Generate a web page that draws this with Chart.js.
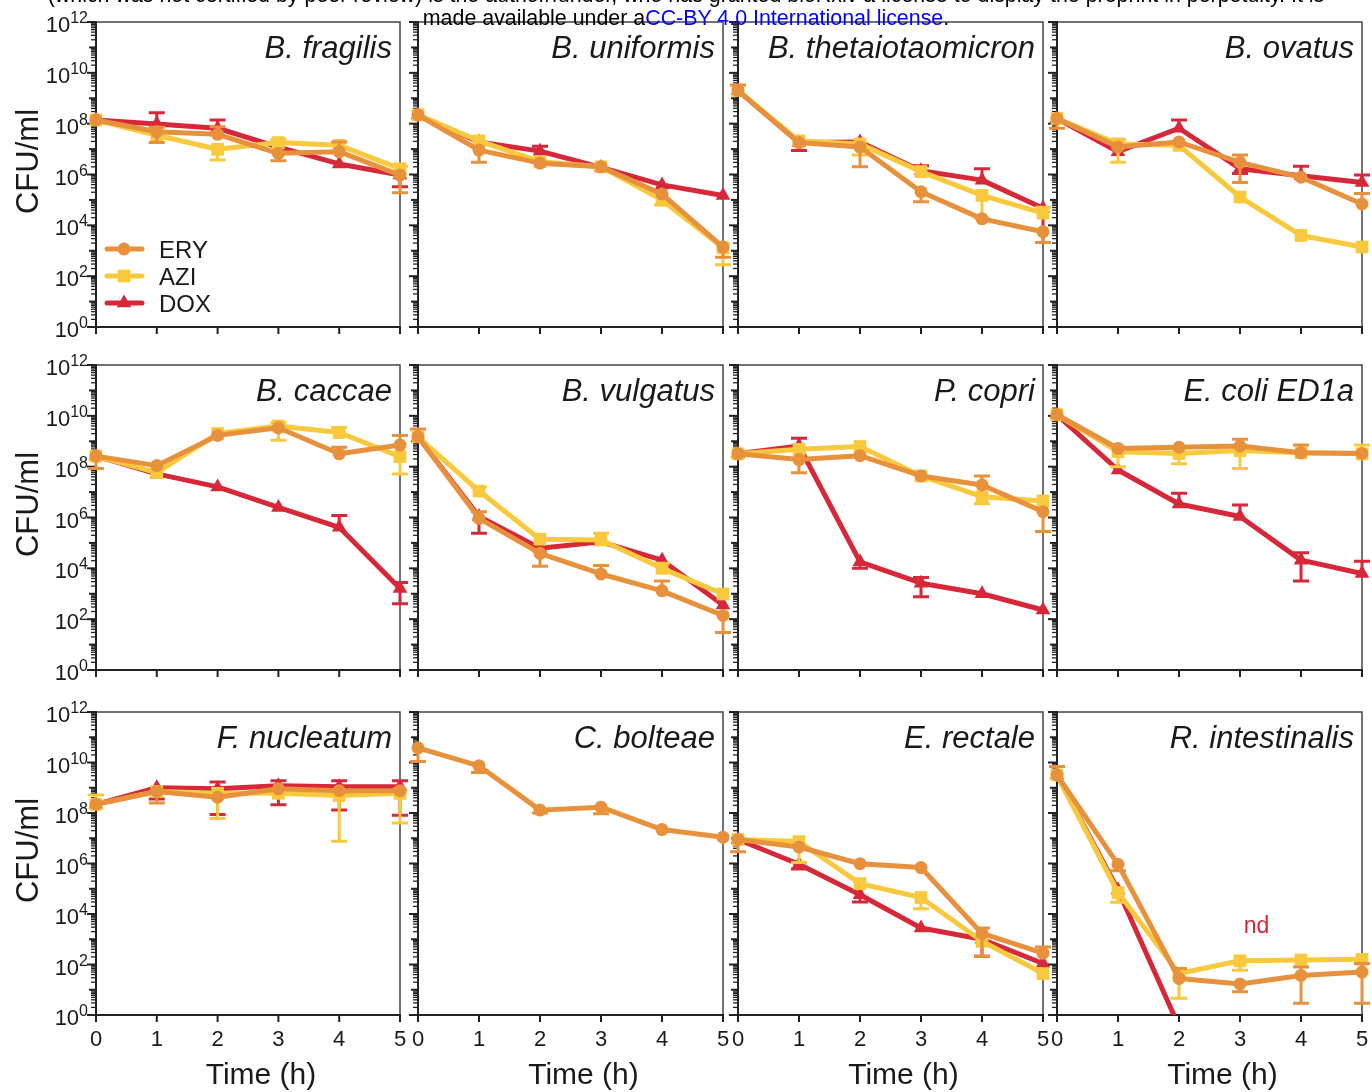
<!DOCTYPE html>
<html>
<head>
<meta charset="utf-8">
<script src="https://cdn.jsdelivr.net/npm/chart.js@4.4.1/dist/chart.umd.min.js"></script>
<style>
  body { margin: 0; background: #fff; width: 1372px; height: 1092px; overflow: hidden; position: relative;
         font-family: "Liberation Sans", Arial, Helvetica, sans-serif; }
  canvas { position: absolute; }
  .hdr { position: absolute; left: 0; width: 1372px; text-align: center; font-size: 21.4px; line-height: 21px;
         color: #000; white-space: nowrap; z-index: 5; }
  .hdr a { color: #0000ff; text-decoration: none; }
</style>
</head>
<body>
<div class="hdr" style="top:-15px">(which was not certified by peer review) is the author/funder, who has granted bioRxiv a license to display the preprint in perpetuity. It is</div>
<div class="hdr" style="top:8px">made available under a<a>CC-BY 4.0 International license</a>.</div>
<script>
const _ = null;
const times = [0, 1, 2, 3, 4, 5];
const species = ['B. fragilis', 'B. uniformis', 'B. thetaiotaomicron', 'B. ovatus',
                 'B. caccae', 'B. vulgatus', 'P. copri', 'E. coli ED1a',
                 'F. nucleatum', 'C. bolteae', 'E. rectale', 'R. intestinalis'];
const drugs = ['ERY', 'AZI', 'DOX'];
const drugColors = ['#E8913C', '#F8C93C', '#D7283A'];
const drugMarkers = ['circle', 'rect', 'triangle'];
const markerRadius = [6.5, 9, 8.5];
const yExponents = [0, 1, 2, 3, 4, 5, 6, 7, 8, 9, 10, 11, 12];
const yLabelExponents = [0, 2, 4, 6, 8, 10, 12];
const minorSteps = [2, 3, 4, 5, 6, 7, 8, 9];

// CFU/ml, one row per species, columns = times
const eryMean = [
  [1.4e8, 4.8e7, 3.8e7, 6.8e6, 7.9e6, 9.5e5],
  [2.2e8, 9.1e6, 2.8e6, 2.0e6, 1.7e5, 1.4e3],
  [2.0e9, 1.8e7, 1.2e7, 2.1e5, 1.8e4, 5.6e3],
  [1.6e8, 1.2e7, 1.9e7, 3.0e6, 7.8e5, 6.9e4],
  [2.6e8, 1.1e8, 1.7e9, 3.4e9, 3.2e8, 7.1e8],
  [1.5e9, 9.3e5, 3.9e4, 6.0e3, 1.3e3, 1.4e2],
  [3.2e8, 1.9e8, 2.7e8, 4.3e7, 1.9e7, 1.7e6],
  [1.1e10, 5.2e8, 5.8e8, 6.5e8, 3.5e8, 3.3e8],
  [2.2e8, 7.1e8, 4.2e8, 9.1e8, 7.6e8, 7.6e8],
  [3.8e10, 7.4e9, 1.3e8, 1.7e8, 2.2e7, 1.1e7],
  [8.9e6, 4.5e6, 9.8e5, 6.9e5, 1.7e3, 2.8e2],
  [3.2e9, 9.3e5, 28, 17, 37, 50]
];
const eryLo = [
  [_, 1.8e7, _, 3.5e6, _, 1.9e5],
  [_, 3.0e6, _, _, _, 5.5e2],
  [_, _, 2.0e6, 8.5e4, _, 2.1e3],
  [6.6e7, _, _, 4.8e5, _, _],
  [8.5e7, _, _, _, _, _],
  [_, _, 1.2e4, _, _, 30],
  [_, 5.8e7, _, _, _, 2.8e5],
  [_, _, _, _, _, _],
  [_, 2.5e8, _, _, _, _],
  [1.1e10, 4.0e9, 1.0e8, 9.3e7, _, _],
  [2.9e6, _, _, _, 2.1e2, _],
  [_, 5.2e5, _, 8.3, 2.9, 2.9]
];
const eryHi = [
  [_, 7.2e7, 7.6e7, _, 1.9e7, _],
  [_, _, _, _, _, _],
  [3.3e9, _, _, _, _, _],
  [_, _, _, 5.9e6, _, 1.8e5],
  [_, _, _, _, 5.8e8, 1.7e9],
  [3.0e9, 1.7e6, _, 1.3e4, 3.2e3, _],
  [_, _, _, _, 4.3e7, _],
  [_, _, _, 1.2e9, 7.1e8, _],
  [_, _, _, _, _, _],
  [_, _, _, _, _, _],
  [_, _, _, _, 2.8e3, 4.9e2],
  [6.9e9, _, 69, _, 79, 110]
];

const aziMean = [
  [1.4e8, 3.5e7, 9.8e6, 1.8e7, 1.4e7, 1.7e6],
  [2.2e8, 2.1e7, 3.2e6, 2.0e6, 1.0e5, 1.3e3],
  [2.0e9, 2.1e7, 1.6e7, 1.3e6, 1.5e5, 3.0e4],
  [1.6e8, 1.6e7, 1.4e7, 1.3e5, 4.0e3, 1.4e3],
  [2.6e8, 5.8e7, 2.0e9, 4.0e9, 2.2e9, 2.5e8],
  [1.5e9, 1.1e7, 1.4e5, 1.3e5, 1.0e4, 9.8e2],
  [3.2e8, 4.8e8, 6.2e8, 4.3e7, 6.6e6, 4.5e6],
  [1.1e10, 3.9e8, 3.3e8, 4.3e8, 3.5e8, 3.2e8],
  [2.2e8, 7.1e8, 6.0e8, 6.0e8, 4.9e8, 6.0e8],
  [_, _, _, _, _, _],
  [8.9e6, 7.4e6, 1.6e5, 4.5e4, 8.3e2, 44],
  [3.2e9, 7.1e4, 44, 140, 150, 160]
];
const aziLo = [
  [_, 1.8e7, 3.7e6, _, _, _],
  [_, _, _, _, 6.3e4, 2.8e2],
  [_, _, 5.9e6, _, 1.9e4, _],
  [_, 3.0e6, _, _, _, _],
  [_, _, _, 1.1e9, _, 5.1e7],
  [_, _, _, _, _, _],
  [_, _, _, _, 3.5e6, _],
  [_, 1.0e8, 1.3e8, 8.5e7, _, _],
  [_, _, 6.0e7, _, 7.6e6, 4.0e7],
  [_, _, _, _, _, _],
  [_, 1.1e6, _, 1.6e4, _, _],
  [_, 2.9e4, 4.6, 59, _, _]
];
const aziHi = [
  [_, _, _, 2.4e7, 1.9e7, 2.1e6],
  [_, _, _, _, _, _],
  [_, _, _, _, _, 5.2e4],
  [_, 2.4e7, _, _, _, _],
  [_, _, _, 5.5e9, 3.5e9, _],
  [_, 1.6e7, _, 2.4e5, 1.6e4, _],
  [_, _, _, _, _, _],
  [_, _, _, _, _, 7.1e8],
  [5.2e8, _, _, _, _, _],
  [_, _, _, _, _, _],
  [_, _, _, _, _, _],
  [_, _, _, _, _, _]
];

const doxMean = [
  [1.4e8, 9.8e7, 6.6e7, 1.2e7, 2.6e6, 9.5e5],
  [2.2e8, 1.9e7, 8.3e6, 1.9e6, 3.9e5, 1.5e5],
  [2.0e9, 1.8e7, 1.9e7, 1.4e6, 6.0e5, 4.7e4],
  [1.6e8, 7.9e6, 6.6e7, 1.7e6, 8.9e5, 4.8e5],
  [2.6e8, 5.2e7, 1.6e7, 2.5e6, 4.1e5, 1.6e3],
  [1.5e9, 1.1e6, 6.2e4, 1.1e5, 2.1e4, 3.6e2],
  [3.2e8, 6.5e8, 1.8e4, 2.6e3, 1.0e3, 2.3e2],
  [1.1e10, 7.4e7, 3.4e6, 1.1e6, 2.1e4, 6.3e3],
  [2.2e8, 1.0e9, 9.1e8, 1.2e9, 1.1e9, 1.1e9],
  [_, _, _, _, _, _],
  [8.9e6, 9.3e5, 5.8e4, 2.8e3, 1.0e3, 1.1e2],
  [3.2e9, 8.9e4, 0.35, _, _, _]
];
const doxLo = [
  [_, _, _, _, _, 3.3e5],
  [_, _, _, _, _, _],
  [_, 8.7e6, _, _, _, 2.1e3],
  [_, _, _, 1.1e6, _, _],
  [_, _, _, _, _, 4.0e2],
  [_, 2.4e5, _, _, _, _],
  [_, _, 1.0e4, 7.6e2, _, _],
  [_, _, _, _, 3.2e3, _],
  [_, 3.6e8, 8.7e7, 2.1e8, 1.3e8, 8.1e7],
  [_, _, _, _, _, _],
  [_, 6.0e5, 3.0e4, _, 2.1e2, _],
  [_, _, _, _, _, _]
];
const doxHi = [
  [_, 2.7e8, 1.4e8, _, _, _],
  [_, _, 1.3e7, _, _, _],
  [_, _, _, 2.2e6, 1.7e6, _],
  [_, _, 1.4e8, _, 2.1e6, 9.5e5],
  [_, _, _, _, 1.2e6, 2.8e3],
  [_, _, _, _, _, _],
  [_, 1.3e9, _, 4.4e3, _, _],
  [_, _, 8.9e6, 3.1e6, 4.1e4, 1.9e4],
  [_, _, 1.7e9, 1.9e9, 1.9e9, 1.9e9],
  [_, _, _, _, _, _],
  [_, _, _, _, _, _],
  [_, _, _, _, _, _]
];

// "nd" note for DOX in R. intestinalis
const noteText = 'nd';
const notePanel = 11;
const notePos = { x: 3.27, y: 3.2e3 };

const meanSets = [eryMean, aziMean, doxMean];
const loSets = [eryLo, aziLo, doxLo];
const hiSets = [eryHi, aziHi, doxHi];

// panel placement on the page (chart area edges)
const colEdges = [[96, 400], [418, 723], [738, 1043], [1057, 1362]];
const rowEdges = [[22, 327], [365, 670], [712, 1015]];
const PAD = { left: 96, right: 14, top: 22, bottom: 80 };
const FONT = '"Liberation Sans", Arial, Helvetica, sans-serif';

function drawMarker(ctx, style, r, x, y) {
  ctx.beginPath();
  if (style === 'circle') {
    ctx.arc(x, y, r, 0, Math.PI * 2);
  } else if (style === 'rect') {
    const s = r * Math.SQRT1_2;
    ctx.rect(x - s, y - s, 2 * s, 2 * s);
  } else {
    ctx.moveTo(x, y - r);
    ctx.lineTo(x + r * 0.866, y + r * 0.5);
    ctx.lineTo(x - r * 0.866, y + r * 0.5);
    ctx.closePath();
  }
  ctx.fill();
}

const errorBars = {
  id: 'errorBars',
  beforeDatasetDraw(chart, args) {
    const ds = chart.data.datasets[args.index];
    const {ctx, scales: {x, y}} = chart;
    ctx.save();
    ctx.strokeStyle = ds.borderColor;
    ctx.lineWidth = 3;
    ds.data.forEach((p, j) => {
      if (p.y == null) return;
      const lo = ds.errLo[j], hi = ds.errHi[j];
      if (lo == null && hi == null) return;
      const px = x.getPixelForValue(p.x);
      const py = y.getPixelForValue(p.y);
      const pLo = lo != null ? y.getPixelForValue(lo) : py;
      const pHi = hi != null ? y.getPixelForValue(hi) : py;
      ctx.beginPath();
      ctx.moveTo(px, pLo);
      ctx.lineTo(px, pHi);
      if (lo != null) { ctx.moveTo(px - 8, pLo); ctx.lineTo(px + 8, pLo); }
      if (hi != null) { ctx.moveTo(px - 8, pHi); ctx.lineTo(px + 8, pHi); }
      ctx.stroke();
    });
    ctx.restore();
  }
};

const panelFrame = {
  id: 'panelFrame',
  beforeDatasetsDraw(chart, args, opts) {
    const {ctx, chartArea: a, scales: {x, y}} = chart;
    ctx.save();
    ctx.lineCap = 'butt';
    // thin top/right box
    ctx.strokeStyle = '#444';
    ctx.lineWidth = 1.5;
    ctx.beginPath();
    ctx.moveTo(a.left, a.top);
    ctx.lineTo(a.right, a.top);
    ctx.lineTo(a.right, a.bottom);
    ctx.stroke();
    // axes
    ctx.strokeStyle = '#222';
    ctx.lineWidth = 2;
    ctx.beginPath();
    ctx.moveTo(a.left, a.top - 1);
    ctx.lineTo(a.left, a.bottom);
    ctx.lineTo(a.right + 1, a.bottom);
    ctx.stroke();
    // y ticks (log, with minor ticks)
    yExponents.forEach(e => {
      const v = Math.pow(10, e);
      const py = y.getPixelForValue(v);
      ctx.lineWidth = 2;
      ctx.beginPath();
      ctx.moveTo(a.left, py);
      ctx.lineTo(a.left - (e % 2 === 0 ? 9 : 7), py);
      ctx.stroke();
      if (e < 12) {
        ctx.lineWidth = 1.3;
        minorSteps.forEach(m => {
          const pm = y.getPixelForValue(m * v);
          ctx.beginPath();
          ctx.moveTo(a.left, pm);
          ctx.lineTo(a.left - 5, pm);
          ctx.stroke();
        });
      }
    });
    // x ticks
    ctx.lineWidth = 2;
    times.forEach(t => {
      const px = x.getPixelForValue(t);
      ctx.beginPath();
      ctx.moveTo(px, a.bottom);
      ctx.lineTo(px, a.bottom + 7);
      ctx.stroke();
    });
    ctx.restore();
  },
  afterDraw(chart, args, opts) {
    const {ctx, chartArea: a, scales: {x, y}} = chart;
    ctx.save();
    ctx.fillStyle = '#1a1a1a';
    // species name
    ctx.font = 'italic 31px ' + FONT;
    ctx.textAlign = 'right';
    ctx.textBaseline = 'alphabetic';
    ctx.fillText(opts.title, a.right - 8, a.top + 36);
    // y tick labels 10^n
    if (opts.showY) {
      yLabelExponents.forEach(e => {
        const py = y.getPixelForValue(Math.pow(10, e));
        const sup = String(e);
        ctx.font = '16px ' + FONT;
        ctx.textAlign = 'right';
        ctx.fillText(sup, a.left - 8, py + 1);
        const w = ctx.measureText(sup).width;
        ctx.font = '22px ' + FONT;
        ctx.fillText('10', a.left - 8 - w, py + 10);
      });
      ctx.save();
      ctx.translate(a.left - 58, (a.top + a.bottom) / 2 - 13);
      ctx.rotate(-Math.PI / 2);
      ctx.font = '31px ' + FONT;
      ctx.textAlign = 'center';
      ctx.fillText('CFU/ml', 0, 0);
      ctx.restore();
    }
    // x tick labels and title
    if (opts.showX) {
      ctx.font = '22px ' + FONT;
      ctx.textAlign = 'center';
      times.forEach(t => ctx.fillText(String(t), x.getPixelForValue(t), a.bottom + 31));
      ctx.font = '30px ' + FONT;
      ctx.fillText('Time (h)', (a.left + a.right) / 2 + 13, a.bottom + 69);
    }
    // legend
    if (opts.legend) {
      drugs.forEach((d, i) => {
        const ly = a.top + 227 + i * 27;
        ctx.strokeStyle = drugColors[i];
        ctx.fillStyle = drugColors[i];
        ctx.lineWidth = 5;
        ctx.lineCap = 'round';
        ctx.beginPath();
        ctx.moveTo(a.left + 11, ly);
        ctx.lineTo(a.left + 46, ly);
        ctx.stroke();
        drawMarker(ctx, drugMarkers[i], markerRadius[i], a.left + 28, ly);
        ctx.fillStyle = '#1a1a1a';
        ctx.font = '24px ' + FONT;
        ctx.textAlign = 'left';
        ctx.fillText(d, a.left + 63, ly + 9);
      });
    }
    if (opts.note) {
      ctx.fillStyle = drugColors[2];
      ctx.font = '23px ' + FONT;
      ctx.textAlign = 'center';
      ctx.textBaseline = 'middle';
      ctx.fillText(noteText, x.getPixelForValue(notePos.x), y.getPixelForValue(notePos.y));
    }
    ctx.restore();
  }
};

species.forEach((name, i) => {
  const col = i % 4, row = Math.floor(i / 4);
  const [l, r] = colEdges[col];
  const [t, b] = rowEdges[row];
  const cv = document.createElement('canvas');
  cv.width = PAD.left + (r - l) + PAD.right;
  cv.height = PAD.top + (b - t) + PAD.bottom;
  cv.style.left = (l - PAD.left) + 'px';
  cv.style.top = (t - PAD.top) + 'px';
  document.body.appendChild(cv);

  const datasets = drugs.map((d, k) => ({
    label: d,
    data: times.map((tm, j) => ({ x: tm, y: meanSets[k][i][j] })),
    errLo: loSets[k][i],
    errHi: hiSets[k][i],
    borderColor: drugColors[k],
    backgroundColor: drugColors[k],
    borderWidth: 5,
    borderJoinStyle: 'round',
    tension: 0,
    pointStyle: drugMarkers[k],
    pointRadius: markerRadius[k],
    pointBorderWidth: 0,
    pointBackgroundColor: drugColors[k],
    clip: (i === notePanel && k === 2) ? { left: 14, top: 14, right: 14, bottom: 0 } : 14
  }));

  new Chart(cv, {
    type: 'line',
    data: { datasets },
    options: {
      responsive: false,
      animation: false,
      events: [],
      layout: { padding: PAD, autoPadding: false },
      scales: {
        x: { type: 'linear', min: 0, max: 5, display: false },
        y: { type: 'logarithmic', min: 1, max: 1e12, display: false }
      },
      plugins: {
        legend: { display: false },
        tooltip: { enabled: false },
        panelFrame: {
          title: name,
          showY: col === 0,
          showX: row === 2,
          legend: i === 0,
          note: i === notePanel
        }
      }
    },
    plugins: [errorBars, panelFrame]
  });
});
</script>
</body>
</html>
